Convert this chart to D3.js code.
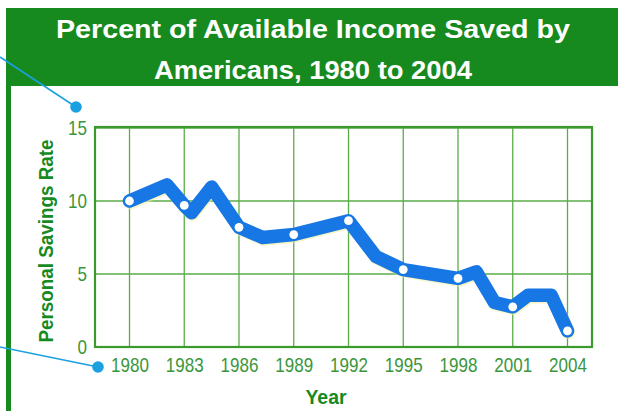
<!DOCTYPE html>
<html>
<head>
<meta charset="utf-8">
<script src="https://cdn.jsdelivr.net/npm/d3@7"></script>
<style>
  html, body { margin: 0; padding: 0; background: #ffffff; }
  svg { display: block; }
  text { font-family: "Liberation Sans", Arial, Helvetica, sans-serif; }
</style>
</head>
<body>
<svg id="chart" width="618" height="411"></svg>
<script>
// Savings rate trace: vertex years and rates (percent)
const years = [1980, 1982.05, 1983, 1983.4, 1984.5, 1986, 1987.3, 1989, 1992, 1993.5, 1995, 1998, 1999, 2000, 2001, 2001.85, 2003.1, 2004];
const rates = [10.0, 11.1, 9.7, 9.2, 10.95, 8.2, 7.5, 7.7, 8.65, 6.2, 5.3, 4.7, 5.15, 3.05, 2.75, 3.55, 3.55, 1.1];

// Marked years (white points) and axis ticks
const xTicks = [1980, 1983, 1986, 1989, 1992, 1995, 1998, 2001, 2004];
const yTicks = [0, 5, 10, 15];

const titleLines = ["Percent of Available Income Saved by", "Americans, 1980 to 2004"];
const xTitle = "Year";
const yTitle = "Personal Savings Rate";

const GREEN = "#178a1f";
const GRID = "#5aac48";
const TEXT_GREEN = "#3a963a";
const BLUE = "#1677e5";
const CYAN = "#1ba0e2";

const svg = d3.select("#chart");

// Squeeze or stretch a text run horizontally by factor k
function condense(sel, k) {
  sel.each(function () {
    const w = this.getComputedTextLength();
    d3.select(this).attr("textLength", w * k).attr("lengthAdjust", "spacingAndGlyphs");
  });
}

// Title panel with left border
svg.append("rect").attr("x", 6).attr("y", 8).attr("width", 612).attr("height", 78).attr("fill", GREEN);
svg.append("rect").attr("x", 6).attr("y", 80).attr("width", 5).attr("height", 331).attr("fill", GREEN);

const title = svg.append("g")
  .attr("fill", "#ffffff").attr("font-weight", "bold").attr("font-size", 26.5)
  .attr("text-anchor", "middle");
title.selectAll("text").data(titleLines).join("text")
  .attr("x", 313)
  .attr("y", (d, i) => 38 + i * 41)
  .attr("textLength", (d, i) => [514, 318][i])
  .attr("lengthAdjust", "spacingAndGlyphs")
  .text(d => d);

// Plot frame
const frame = { left: 95, right: 592, top: 127, bottom: 347 };
const x = d3.scaleLinear().domain([1980, 2004]).range([129.5, 567.5]);
const y = d3.scaleLinear().domain([0, 15]).range([347, 128]);

// Grid
const grid = svg.append("g").attr("stroke", GRID).attr("stroke-width", 1.3);
grid.selectAll("line.v").data(xTicks).join("line").attr("class", "v")
  .attr("x1", d => x(d)).attr("x2", d => x(d))
  .attr("y1", frame.top).attr("y2", frame.bottom);
grid.selectAll("line.h").data(yTicks).join("line").attr("class", "h")
  .attr("x1", frame.left).attr("x2", frame.right)
  .attr("y1", d => y(d)).attr("y2", d => y(d));

svg.append("rect")
  .attr("x", frame.left).attr("y", frame.top)
  .attr("width", frame.right - frame.left).attr("height", frame.bottom - frame.top)
  .attr("fill", "none").attr("stroke", "#3a9a2c").attr("stroke-width", 2.2);

// Axes (labels only)
const xAxis = svg.append("g").attr("transform", `translate(0,${frame.bottom})`)
  .call(d3.axisBottom(x).tickValues(xTicks).tickFormat(d3.format("d")).tickSize(0).tickPadding(10));
const yAxis = svg.append("g").attr("transform", `translate(${frame.left},0)`)
  .call(d3.axisLeft(y).tickValues(yTicks).tickSize(0).tickPadding(8));
[xAxis, yAxis].forEach(g => {
  g.select(".domain").remove();
  g.attr("font-family", null).attr("font-size", null);
  g.selectAll("text").attr("fill", TEXT_GREEN).attr("font-size", 21)
    .call(condense, 0.81);
});

// Axis titles
svg.append("text")
  .attr("x", 326).attr("y", 404).attr("text-anchor", "middle")
  .attr("fill", GREEN).attr("font-weight", "bold").attr("font-size", 20)
  .attr("textLength", 41).attr("lengthAdjust", "spacingAndGlyphs")
  .text(xTitle);
svg.append("text")
  .attr("transform", "translate(53,241) rotate(-90)").attr("text-anchor", "middle")
  .attr("fill", GREEN).attr("font-weight", "bold").attr("font-size", 21)
  .attr("textLength", 203).attr("lengthAdjust", "spacingAndGlyphs")
  .text(yTitle);

// Savings line
const pts = years.map((yr, i) => ({ year: yr, rate: rates[i] }));
const line = d3.line().x(d => x(d.year)).y(d => y(d.rate));
svg.append("path").datum(pts)
  .attr("d", line).attr("transform", "translate(1,1.5)")
  .attr("fill", "none").attr("stroke", "#f4ee9c").attr("stroke-opacity", 0.6)
  .attr("stroke-width", 13.5).attr("stroke-linejoin", "round").attr("stroke-linecap", "round");
svg.append("path").datum(pts)
  .attr("d", line)
  .attr("fill", "none").attr("stroke", BLUE)
  .attr("stroke-width", 13.5).attr("stroke-linejoin", "round").attr("stroke-linecap", "round");

svg.append("g").selectAll("circle")
  .data(pts.filter(d => xTicks.includes(d.year)))
  .join("circle")
  .attr("cx", d => x(d.year)).attr("cy", d => y(d.rate))
  .attr("r", 4.4).attr("fill", "#ffffff");

// Callout leaders
const callouts = [
  { from: [0, 57], to: [76, 107] },
  { from: [0, 347], to: [98, 367] }
];
const co = svg.append("g");
co.selectAll("line").data(callouts).join("line")
  .attr("x1", d => d.from[0]).attr("y1", d => d.from[1])
  .attr("x2", d => d.to[0]).attr("y2", d => d.to[1])
  .attr("stroke", CYAN).attr("stroke-width", 1.6);
co.selectAll("circle").data(callouts).join("circle")
  .attr("cx", d => d.to[0]).attr("cy", d => d.to[1])
  .attr("r", 5.8).attr("fill", CYAN);
</script>
</body>
</html>
